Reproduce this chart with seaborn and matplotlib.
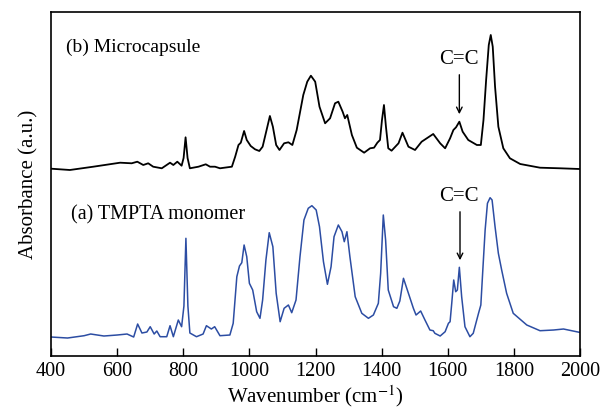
import pandas as pd
import seaborn as sns
import matplotlib.pyplot as plt

# (a) TMPTA monomer (arbitrary absorbance units)
wn_a = [400, 450, 500, 520, 560, 600, 630, 650, 662, 675, 690, 700, 712, 720, 730,
        750, 760, 770, 785, 795, 802, 808, 814, 820, 840, 860, 870, 885, 895, 911,
        941, 951, 962, 970, 977, 984, 992, 1000, 1010, 1022, 1032, 1040, 1050, 1060,
        1071, 1081, 1093, 1105, 1118, 1128, 1141, 1153, 1165, 1178, 1189, 1202, 1212,
        1224, 1236, 1247, 1256, 1269, 1280, 1287, 1295, 1304, 1320, 1340, 1360, 1375,
        1390, 1397, 1405, 1412, 1420, 1436, 1446, 1455, 1466, 1481, 1496, 1504, 1518,
        1531, 1546, 1556, 1561, 1577, 1592, 1602, 1607, 1612, 1618, 1624, 1629, 1635,
        1642, 1652, 1667, 1677, 1693, 1700, 1706, 1713, 1720, 1728, 1734, 1743, 1753,
        1763, 1778, 1798, 1839, 1879, 1920, 1950, 1998]
abs_a = [19, 18, 20.3, 22, 20, 21, 22, 19, 32, 23, 24, 29.3, 22, 25, 19.3,
         19.3, 30.3, 19.3, 36, 29.3, 50, 117.7, 50, 23, 19.3, 22, 30.3, 27, 29.3, 20.3,
         21, 32.7, 79.3, 90, 93.3, 111, 99.3, 72.7, 66, 44.3, 37.7, 56, 96, 123.3,
         109.3, 62.7, 34.3, 47.7, 51, 43.3, 56, 99.3, 136, 147.7, 150.3, 146, 129.3,
         94.3, 71.7, 89.3, 119.3, 131, 124.3, 114.3, 124.3, 99.3, 59.3, 42.7, 37.7, 41,
         52.7, 82.7, 141, 116, 66, 49.3, 47.7, 55, 77.7, 62.7, 47.7, 41, 45,
         36, 26, 25.3, 22.7, 20, 24.3, 32.7, 34.3, 52.7, 76, 64.3, 66, 88.7,
         59.3, 29.3, 19.3, 22.7, 42.7, 51, 86, 126, 152.7, 158.3, 156, 129.3, 102.7,
         86, 62.7, 42.7, 31, 25.3, 26, 27, 23.7]

# (b) Microcapsule
wn_b = [400, 457, 528, 609, 644, 661, 679, 694, 709, 735, 760, 770, 782, 795, 801,
        807, 813, 820, 846, 868, 881, 896, 911, 947, 957, 967, 974, 984, 992, 1004,
        1017, 1030, 1040, 1052, 1062, 1071, 1081, 1091, 1105, 1118, 1130, 1143, 1163,
        1175, 1186, 1199, 1212, 1229, 1244, 1259, 1269, 1282, 1289, 1296, 1310, 1325,
        1347, 1365, 1377, 1387, 1395, 1401, 1407, 1413, 1420, 1430, 1451, 1463, 1481,
        1501, 1521, 1556, 1577, 1592, 1607, 1617, 1625, 1635, 1645, 1662, 1688, 1700,
        1708, 1716, 1724, 1730, 1736, 1743, 1753, 1768, 1788, 1819, 1879, 1940, 1998]
abs_b = [187.3, 186, 189.3, 193.3, 192.7, 194.3, 191, 192.7, 189.3, 187.7, 193.3, 191, 194.3, 190.3, 198,
         218.7, 198, 187.7, 189.3, 191.7, 189.3, 189.3, 187.7, 189.3, 199.3, 211, 213.3, 225, 216, 210,
         206.7, 205, 209.3, 226, 240, 229.3, 211, 206, 212.7, 213.7, 211, 226, 261,
         274.3, 280.3, 274.3, 249.3, 232.7, 237.7, 252.7, 254.3, 244.3, 237.7, 241, 221, 208.3,
         203.3, 207.7, 208.3, 213.3, 216, 236, 251, 229.3, 207.7, 205.3, 212.7, 223.3, 209.3,
         206, 214.3, 222, 212.7, 207.7, 217.7, 226, 228.7, 234.3, 224.3, 216, 211, 211,
         236, 276, 311, 321, 309.3, 269.3, 229.3, 207.7, 197.7, 192, 188.3, 187.7, 187]

x_ticks = [400, 600, 800, 1000, 1200, 1400, 1600, 1800, 2000]

df_a = pd.DataFrame({'wn': wn_a, 'abs': abs_a})
df_b = pd.DataFrame({'wn': wn_b, 'abs': abs_b})

sns.set_style('ticks')
plt.rcParams['font.family'] = ['Liberation Serif', 'DejaVu Serif']
plt.rcParams['mathtext.fontset'] = 'stix'
plt.rcParams['axes.edgecolor'] = 'black'
plt.rcParams['xtick.color'] = 'black'
plt.rcParams['text.color'] = 'black'
plt.rcParams['axes.labelcolor'] = 'black'

fig = plt.figure(figsize=(6.03, 4.16), dpi=100)
ax = fig.add_axes([0.0846, 0.1442, 0.8773, 0.827])

# draw both spectra
sns.lineplot(data=df_a, x='wn', y='abs', ax=ax, color='#2c4da3', lw=1.1)
sns.lineplot(data=df_b, x='wn', y='abs', ax=ax, color='black', lw=1.3)

ax.set_xlim(400, 2000)
ax.set_ylim(0, 344)
ax.set_xticks(x_ticks)
ax.set_yticks([])
ax.tick_params(axis='x', direction='in', length=6, width=1, labelsize=14.5, pad=4)
for s in ax.spines.values():
    s.set_linewidth(1.2)

ax.set_xlabel('Wavenumber (cm$^{-1}$)', fontsize=15, labelpad=2)
ax.set_ylabel('Absorbance (a.u.)', fontsize=15, labelpad=9)

ax.text(446, 309, '(b) Microcapsule', fontsize=14, va='center', ha='left')
ax.text(459, 141, '(a) TMPTA monomer', fontsize=14.5, va='center', ha='left')

# C=C markers
ax.text(1633, 296, 'C=C', fontsize=15, va='center', ha='center')
ax.annotate('', xy=(1635, 239), xytext=(1635, 284),
            arrowprops=dict(arrowstyle='->', lw=1, color='black'))
ax.text(1633, 159, 'C=C', fontsize=15, va='center', ha='center')
ax.annotate('', xy=(1637, 93), xytext=(1637, 147),
            arrowprops=dict(arrowstyle='->', lw=1, color='black'))

plt.savefig('out.png', dpi=100)
